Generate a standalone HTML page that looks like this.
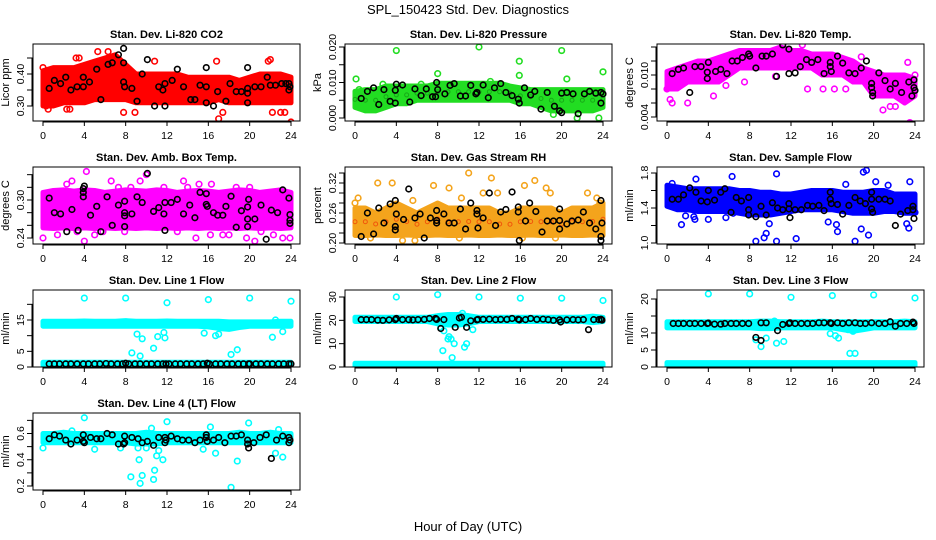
<!DOCTYPE html>
<html><head><meta charset="utf-8"><style>
html,body{margin:0;padding:0;background:#fff}
svg{display:block;font-family:"Liberation Sans",Arial,sans-serif}
</style></head><body>
<svg id="chart" width="936" height="540" viewBox="0 0 936 540" xmlns="http://www.w3.org/2000/svg">
<text x="468" y="14" font-size="13" text-anchor="middle">SPL_150423  Std. Dev. Diagnostics</text>
<text x="468" y="531" font-size="13" text-anchor="middle">Hour of Day (UTC)</text>
</svg>
<script>
// ---------- data ----------
const xTicks = [0,4,8,12,16,20,24];
const hours = [0,1,2,3,4,5,6,7,8,9,10,11,12,13,14,15,16,17,18,19,20,21,22,23,24];
const fullDay = [0,24];

// CO2
const co2Lo = [0.30,0.30,0.31,0.31,0.31,0.32,0.32,0.32,0.32,0.31,0.31,0.31,0.31,0.31,0.31,0.31,0.31,0.32,0.31,0.31,0.31,0.31,0.31,0.31,0.31];
const co2Hi = [0.41,0.42,0.42,0.42,0.43,0.44,0.45,0.46,0.43,0.40,0.40,0.40,0.40,0.40,0.39,0.39,0.39,0.39,0.39,0.38,0.39,0.40,0.40,0.40,0.39];
const co2Out = [[0,0.42],[0.3,0.30],[0.5,0.29],[2.3,0.29],[2.6,0.29],[3.2,0.45],[3.5,0.45],[5.3,0.47],[6.3,0.47],[7.8,0.28],[8.9,0.28],[10.8,0.44],[17,0.26],[17.4,0.28],[22.2,0.28],[23,0.28],[23.4,0.28],[24,0.25],[16.8,0.44],[21.8,0.44],[22,0.445]];
const co2Black = [[0.6,0.355],[1.1,0.38],[1.7,0.37],[2.2,0.39],[2.7,0.35],[3.3,0.36],[3.9,0.39],[3.9,0.36],[4.5,0.375],[5.2,0.415],[5.6,0.32],[6.3,0.43],[6.7,0.435],[7.3,0.46],[7.8,0.48],[7.8,0.435],[7.8,0.375],[7.9,0.36],[8.6,0.355],[9.1,0.315],[9.6,0.40],[10.1,0.445],[10.8,0.30],[11.2,0.36],[11.6,0.35],[11.8,0.30],[11.8,0.37],[12.5,0.38],[13,0.415],[13.6,0.36],[14.3,0.32],[14.7,0.32],[15.2,0.365],[15.8,0.42],[15.8,0.36],[15.8,0.31],[16.5,0.30],[16.9,0.345],[17.7,0.315],[18.1,0.37],[18.7,0.345],[19.2,0.345],[19.8,0.42],[19.8,0.355],[19.8,0.34],[19.8,0.31],[20.5,0.36],[21.1,0.36],[21.7,0.39],[22,0.365],[22.5,0.365],[23.1,0.37],[23.5,0.37],[23.8,0.37],[23.8,0.35],[23.9,0.36]];

// Pressure
const prLo = [0.003,0.002,0.002,0.003,0.004,0.004,0.005,0.005,0.005,0.005,0.005,0.005,0.005,0.005,0.005,0.005,0.004,0.004,0.003,0.002,0.002,0.002,0.002,0.002,0.003];
const prHi = [0.0075,0.008,0.008,0.009,0.009,0.009,0.009,0.009,0.0098,0.0098,0.0098,0.0098,0.0098,0.0098,0.0098,0.009,0.0085,0.008,0.008,0.008,0.008,0.008,0.008,0.008,0.008];
const prOut = [[0.1,0.011],[0.4,0.008],[4,0.019],[8,0.0125],[12,0.020],[15.9,0.016],[15.9,0.012],[20,0.019],[20.5,0.011],[24,0.013],[21.5,0.0],[23.6,0.0],[19.2,0.001],[2.7,0.0095],[6.4,0.0095],[13.1,0.0103]];
const prBlack = [[0.6,0.0055],[1.2,0.0075],[1.8,0.0085],[2.3,0.0038],[2.8,0.008],[3.4,0.0047],[3.9,0.0042],[3.9,0.0078],[4,0.0095],[4.6,0.0093],[5.3,0.0045],[5.8,0.0082],[6.4,0.0063],[6.9,0.0082],[7.5,0.006],[7.8,0.006],[7.9,0.010],[8,0.008],[8.7,0.0068],[9.2,0.0092],[9.6,0.0097],[10.2,0.0062],[10.7,0.0062],[11.2,0.0092],[11.7,0.0068],[11.8,0.0072],[12.4,0.0093],[12.9,0.0057],[13.5,0.0085],[14.1,0.0097],[14.6,0.0072],[15.2,0.0063],[15.8,0.0053],[15.9,0.0042],[16.4,0.0085],[17,0.0065],[17.4,0.0075],[18,0.0025],[18.6,0.0072],[19.3,0.0033],[19.8,0.002],[20,0.0015],[20,0.007],[20.5,0.0072],[21.1,0.0068],[21.6,0.0012],[22.2,0.0068],[22.7,0.0075],[23.3,0.007],[23.8,0.0072],[23.8,0.0042],[24,0.0068]];

// Li-820 Temp
const tLo = [0.008,0.008,0.009,0.009,0.009,0.009,0.010,0.011,0.011,0.011,0.011,0.011,0.011,0.011,0.011,0.010,0.010,0.010,0.009,0.009,0.007,0.007,0.007,0.006,0.007];
const tHi = [0.0105,0.011,0.0115,0.012,0.012,0.0125,0.013,0.0135,0.0135,0.0135,0.0135,0.014,0.0135,0.0135,0.013,0.013,0.013,0.0125,0.012,0.011,0.0105,0.010,0.010,0.010,0.0095];
const tOut = [[0,0.008],[0.3,0.0065],[0.5,0.006],[2,0.006],[4.5,0.007],[5.7,0.0085],[7.5,0.009],[10.5,0.0098],[11.2,0.0143],[13.1,0.0143],[13.6,0.008],[15.1,0.008],[16.2,0.008],[17.3,0.008],[18.8,0.0126],[20.9,0.005],[21.6,0.0055],[22.1,0.0055],[23.3,0.0118],[23.5,0.0032],[24,0.010]];
const tBlack = [[0.5,0.0102],[1.1,0.0108],[1.6,0.011],[2.2,0.0075],[2.7,0.0112],[3.3,0.0112],[3.9,0.0104],[3.9,0.0095],[4.0,0.0118],[4.7,0.0105],[5.2,0.0108],[5.8,0.0102],[6.3,0.0120],[6.8,0.012],[7.3,0.0125],[7.9,0.013],[8.0,0.0127],[8.6,0.011],[9.2,0.0127],[9.6,0.0127],[10.2,0.013],[10.6,0.0098],[11.2,0.0143],[11.8,0.0137],[11.8,0.0102],[12.4,0.0103],[12.9,0.0112],[13.5,0.0122],[14,0.0118],[14.6,0.0122],[15.2,0.0102],[15.8,0.0118],[15.8,0.0112],[15.9,0.0105],[16.5,0.0127],[17,0.0117],[17.6,0.0103],[18.2,0.0102],[18.8,0.011],[19.3,0.012],[19.8,0.0088],[19.8,0.0082],[19.9,0.0075],[19.9,0.007],[20.5,0.0103],[21.1,0.0092],[21.6,0.008],[22.1,0.0088],[22.7,0.0075],[23.4,0.009],[23.7,0.007],[23.9,0.0082],[23.9,0.0093],[24,0.0078]];

// Amb box temp
const abLo = [0.256,0.255,0.256,0.255,0.256,0.255,0.256,0.255,0.256,0.255,0.256,0.255,0.256,0.255,0.256,0.255,0.256,0.255,0.256,0.255,0.256,0.255,0.256,0.255,0.256];
const abHi = [0.312,0.315,0.316,0.314,0.316,0.315,0.312,0.314,0.316,0.315,0.314,0.316,0.315,0.312,0.314,0.315,0.314,0.312,0.314,0.316,0.315,0.312,0.314,0.316,0.312];
const abOut = [[0,0.24],[1.4,0.245],[2.3,0.325],[2.8,0.33],[3.3,0.25],[4,0.235],[4.2,0.345],[5,0.245],[5.8,0.25],[6.6,0.33],[7.3,0.32],[7.9,0.25],[8.5,0.32],[9.4,0.33],[10,0.34],[11.2,0.31],[11.7,0.32],[13,0.25],[13.6,0.33],[14,0.32],[14.8,0.24],[15.1,0.325],[16.2,0.245],[16.3,0.325],[17.4,0.245],[18,0.245],[19.7,0.24],[20,0.32],[20.5,0.235],[21.1,0.25],[22.3,0.245],[23.2,0.24],[23.9,0.24],[22.5,0.31],[18.7,0.32]];
const abBlack = [[0.6,0.303],[1.1,0.28],[1.7,0.278],[2.3,0.25],[2.8,0.285],[3.4,0.252],[3.9,0.318],[3.9,0.312],[3.9,0.305],[4.0,0.322],[4.6,0.276],[5.2,0.29],[5.6,0.25],[6.2,0.305],[6.7,0.26],[7.3,0.292],[7.9,0.298],[7.9,0.28],[7.9,0.275],[7.9,0.258],[8.6,0.278],[9.1,0.305],[9.6,0.296],[10.1,0.342],[10.7,0.282],[11.2,0.288],[11.7,0.278],[11.8,0.296],[11.8,0.252],[12.4,0.296],[13,0.301],[13.6,0.278],[14.2,0.292],[14.7,0.272],[15.2,0.312],[15.8,0.31],[15.8,0.293],[15.9,0.29],[16.5,0.28],[16.9,0.276],[17.4,0.276],[17.7,0.29],[18.2,0.306],[18.7,0.257],[19.2,0.283],[19.8,0.289],[19.8,0.27],[19.8,0.258],[19.9,0.301],[20.5,0.27],[21.1,0.292],[21.6,0.238],[22.1,0.284],[22.7,0.28],[23.2,0.316],[23.8,0.303],[23.9,0.277],[23.9,0.263],[23.9,0.268]];

// Gas stream RH
const rhLo = [0.215,0.215,0.216,0.215,0.215,0.216,0.215,0.215,0.216,0.215,0.215,0.216,0.215,0.215,0.216,0.215,0.215,0.216,0.215,0.215,0.216,0.215,0.215,0.216,0.215];
const rhHi = [0.27,0.27,0.26,0.27,0.28,0.27,0.26,0.27,0.28,0.27,0.27,0.27,0.27,0.27,0.26,0.26,0.27,0.27,0.27,0.27,0.26,0.27,0.27,0.27,0.28];
const rhOut = [[0,0.28],[0.3,0.29],[2.2,0.32],[3.6,0.32],[4.6,0.205],[5.6,0.285],[5.8,0.205],[7.6,0.315],[9.1,0.31],[10.3,0.29],[10.1,0.21],[11,0.34],[12.4,0.30],[13.2,0.33],[13.8,0.30],[16.4,0.315],[17.4,0.325],[18.5,0.31],[18.9,0.30],[22.5,0.30],[23.4,0.29],[1.5,0.21],[16.2,0.21],[19.4,0.21],[23.7,0.28]];
const rhBlack = [[0.6,0.213],[1.2,0.26],[1.8,0.218],[2.3,0.27],[2.8,0.24],[3.4,0.278],[3.9,0.285],[3.9,0.233],[3.9,0.226],[4,0.258],[4.7,0.247],[5.2,0.308],[5.8,0.25],[6.3,0.258],[6.7,0.21],[7.3,0.25],[7.9,0.265],[7.9,0.245],[7.9,0.24],[8.6,0.258],[9.1,0.24],[9.6,0.24],[10.2,0.268],[10.7,0.228],[11.2,0.28],[11.8,0.265],[11.8,0.258],[11.9,0.23],[12.4,0.25],[13,0.30],[13.6,0.235],[14.1,0.262],[14.6,0.267],[15.2,0.302],[15.8,0.272],[15.8,0.262],[15.9,0.205],[16.5,0.244],[16.9,0.28],[17.5,0.263],[18.1,0.222],[18.6,0.244],[19.2,0.244],[19.8,0.268],[19.8,0.245],[19.8,0.228],[20.5,0.238],[21,0.244],[21.6,0.246],[22.1,0.262],[22.7,0.24],[23.3,0.228],[23.8,0.285],[23.9,0.24],[23.8,0.205],[23.8,0.213]];

// Sample flow
const sfLo = [1.42,1.38,1.38,1.36,1.36,1.36,1.36,1.34,1.32,1.32,1.32,1.34,1.36,1.38,1.38,1.38,1.38,1.36,1.34,1.34,1.34,1.36,1.36,1.34,1.34];
const sfHi = [1.66,1.64,1.62,1.62,1.62,1.62,1.62,1.60,1.60,1.58,1.58,1.56,1.56,1.58,1.60,1.60,1.60,1.58,1.58,1.58,1.60,1.60,1.56,1.56,1.56];
const sfOut = [[0.5,1.68],[1.4,1.21],[1.8,1.31],[2.6,1.3],[2.7,1.27],[2.8,1.73],[4,1.27],[5.7,1.29],[6.3,1.76],[6.4,1.34],[8.6,1.02],[9.4,1.06],[9.6,1.11],[9.9,1.22],[10.6,1.79],[10.6,1.02],[12.5,1.05],[15.6,1.24],[16.4,1.21],[16.5,1.13],[17.3,1.67],[18.2,1.02],[18.8,1.16],[19,1.81],[19.3,1.83],[19.5,1.09],[20.2,1.7],[23.5,1.70],[23.4,1.17],[23.2,1.22],[24,1.35],[21.4,1.66]];
const sfBlack = [[0.5,1.5],[1.1,1.5],[1.6,1.55],[2.2,1.63],[2.8,1.58],[3.3,1.48],[3.9,1.47],[4,1.6],[4.6,1.49],[5.2,1.58],[5.6,1.62],[6.2,1.35],[6.7,1.52],[7.2,1.48],[7.9,1.52],[7.9,1.38],[7.9,1.32],[8.6,1.3],[9.1,1.42],[9.6,1.32],[10.2,1.46],[10.7,1.4],[11.2,1.38],[11.8,1.45],[11.8,1.39],[11.9,1.29],[12.4,1.38],[13,1.38],[13.6,1.43],[14.1,1.42],[14.7,1.43],[15.2,1.37],[15.8,1.58],[15.8,1.5],[15.9,1.45],[16.5,1.44],[17,1.33],[17.6,1.43],[18.2,1.52],[18.7,1.48],[19.2,1.45],[19.8,1.58],[19.8,1.5],[19.8,1.39],[19.9,1.35],[20.5,1.5],[21.1,1.5],[21.6,1.48],[22.1,1.2],[22.6,1.33],[23.3,1.37],[23.8,1.42],[23.8,1.38],[23.9,1.28]];

// Line 1 flow
const l1Lo = [13,13,13,13,13,13,13,13,13,13,13,13,13,13,13,13,12.8,12.3,12,12.6,13,13,13,13,13];
const l1Hi = [14.6,14.6,14.6,14.6,14.7,14.6,14.6,14.6,14.8,14.6,14.6,14.6,14.7,14.6,14.6,14.6,14.6,14.6,14.4,14.4,14.4,14.4,14.4,14.6,14.6];
const l1BaseLo = [0.6,0.6];
const l1BaseHi = [1.5,1.5];
const l1Out = [[4,22],[8,22],[12,20.5],[16,21.5],[20,22],[24,21],[8.6,4.5],[9.1,10.5],[9.4,3.5],[9.6,9],[10.7,6],[11.1,9.7],[11.7,11],[11.8,9.3],[15.6,10.8],[16.7,10],[17,10.5],[18.2,4],[18.8,5.5],[22.2,9.5],[22.5,15],[23.2,11.3]];
const l1Black = [[0.6,1],[1.1,1],[1.6,1],[2.2,1],[2.7,1],[3.3,1],[3.9,1],[4.4,1],[5.0,1],[5.5,1],[6.1,1.1],[6.6,1],[7.2,1],[7.7,1],[8.0,1.2],[8.3,1],[8.9,1],[9.4,1],[10.0,1],[10.5,1],[11.1,1],[11.6,1],[11.9,1],[12.2,1],[12.8,1],[13.3,1],[13.9,1],[14.4,1],[15.0,1],[15.5,1],[15.9,1.2],[16.1,1],[16.7,1],[17.2,1],[17.8,1],[18.3,1],[18.9,1],[19.4,1],[19.9,1],[20.0,1],[20.6,1],[21.1,1],[21.7,1],[22.2,1],[22.8,1],[23.3,1],[23.8,1],[24.0,1]];

// Line 2 flow
const l2Lo = [19.5,19.5,19.5,19.5,19.5,19.5,19.5,19.5,18.5,18,18,18.5,19.5,19.5,19.5,19.5,19.5,19.5,19.5,19.5,19.5,19.5,19.5,19,19.5];
const l2Hi = [21.3,21.3,21.3,21.3,21.3,21.3,21.3,21.3,22,22.5,22.5,22,21.3,21.3,21.3,21.3,21.3,21.3,21.3,21.3,21.3,21.3,21.3,21.8,21.3];
const l2BaseLo = [0,0];
const l2BaseHi = [1.6,1.6];
const l2Out = [[4,30],[8,31],[12,30],[16,29.5],[20,29.5],[24,28.5],[8.5,7],[8.6,15.5],[9.0,12],[9.1,13],[9.3,12],[9.4,4],[9.6,10],[10.4,23],[10.6,8.5],[10.8,10],[11.4,16],[8.3,17]];
const l2Black = [[0.6,20.3],[1.1,20.3],[1.6,20.3],[2.2,20.1],[2.7,20],[3.3,20.2],[3.9,20.3],[4,20.8],[4.6,20.3],[5.2,20.3],[5.6,20.2],[6.1,20.3],[6.7,20.4],[7.2,20.8],[7.8,20.8],[7.9,20.4],[8.3,16.5],[8.6,20.3],[9.7,17],[10.1,21],[10.3,21.3],[10.8,17],[11.2,19.8],[11.8,20.2],[11.9,20.4],[12.4,20.4],[13,20.5],[13.6,20.3],[14.1,20.4],[14.7,20.4],[15.2,20.8],[15.8,20.5],[15.9,20.2],[16.5,20.3],[17,20.8],[17.6,20.4],[18.2,20.5],[18.7,20.3],[19.2,20],[19.8,20.2],[19.9,19.3],[20.5,20.2],[21.1,20.3],[21.6,20.2],[22.1,20.3],[22.6,16],[23.1,20.3],[23.6,20.3],[23.8,20.5],[23.9,20.1]];

// Line 3 flow
const l3Lo = [11.5,11.5,11.5,11.5,11.5,11.5,11.5,11.5,11.5,11.3,11.3,11.5,11.5,11.5,11.5,11.5,11.5,11,10.5,11,11.5,11.5,11.5,11.5,11.5];
const l3Hi = [13.3,13.3,13.3,13.3,13.3,13.3,13.3,13.3,13.3,13.5,13.5,13.3,13.3,13.3,13.3,13.5,13.3,13.3,13.3,13.3,13.3,13.3,13.3,13.5,13.3];
const l3BaseLo = [0,0];
const l3BaseHi = [1.3,1.3];
const l3Out = [[4,21.5],[8,21.5],[12,20.5],[16,21],[20,21.2],[24,20.3],[8.6,8],[9.1,6],[9.6,8.5],[10.4,13.5],[10.6,7],[11.3,7.5],[15.8,9.8],[16.3,9.2],[16.6,8.5],[17.7,4],[18.2,4],[17.5,11],[18,10.5]];
const l3Black = [[0.6,12.8],[1.1,12.8],[1.6,12.8],[2.2,12.8],[2.7,12.8],[3.3,12.8],[3.9,12.8],[4,12.9],[4.6,12.6],[5.2,12.6],[5.6,12.8],[6.2,12.8],[6.7,12.8],[7.3,12.8],[7.9,12.8],[8.6,8.7],[9.1,13],[9.1,7.8],[9.6,13],[10.7,10.7],[11.2,12.5],[11.8,12.8],[11.9,13],[12.4,12.8],[13,12.8],[13.6,12.8],[14.1,12.8],[14.7,13],[15.2,13],[15.8,13],[15.9,12.8],[16.5,13],[17,12.8],[17.6,13],[18.2,13],[18.7,12.8],[19.2,12.8],[19.8,13],[20.5,12.8],[21.1,12.8],[21.6,13.3],[22.1,12],[22.6,12.8],[23.2,12.8],[23.8,13.2],[23.9,12.8]];

// Line 4 flow
const l4Lo = [0.53,0.53,0.53,0.53,0.53,0.53,0.53,0.53,0.53,0.52,0.52,0.52,0.53,0.53,0.53,0.53,0.53,0.53,0.53,0.53,0.53,0.53,0.53,0.53,0.53];
const l4Hi = [0.60,0.60,0.61,0.60,0.60,0.60,0.60,0.60,0.60,0.60,0.61,0.60,0.60,0.60,0.60,0.60,0.60,0.60,0.60,0.61,0.60,0.60,0.61,0.60,0.60];
const l4Out = [[0,0.49],[1.3,0.55],[2.8,0.62],[4,0.72],[5,0.48],[7.5,0.49],[8.5,0.27],[9.2,0.49],[9.3,0.4],[9.4,0.22],[9.6,0.28],[10,0.49],[10.5,0.64],[10.7,0.25],[10.8,0.32],[11,0.43],[11.2,0.47],[11.6,0.4],[12,0.69],[15.5,0.48],[16.2,0.65],[16.7,0.45],[18.2,0.19],[18.8,0.39],[19.9,0.68],[22.5,0.45],[22.8,0.63],[23.2,0.42]];
const l4Black = [[0.6,0.56],[1.1,0.59],[1.6,0.58],[2.2,0.55],[2.7,0.52],[3.3,0.55],[3.9,0.59],[3.9,0.54],[4,0.53],[4.6,0.57],[5.2,0.56],[5.6,0.56],[6.2,0.6],[6.7,0.59],[7.3,0.52],[7.8,0.52],[7.9,0.53],[7.9,0.58],[8.6,0.57],[9.2,0.56],[9.6,0.53],[10.1,0.54],[10.7,0.51],[11.2,0.57],[11.8,0.57],[11.8,0.53],[11.9,0.55],[12.4,0.58],[13,0.56],[13.5,0.55],[14.1,0.55],[14.7,0.53],[15.2,0.55],[15.8,0.59],[15.8,0.57],[15.9,0.54],[16.5,0.55],[17,0.57],[17.6,0.53],[18.2,0.58],[18.7,0.58],[19.2,0.59],[19.8,0.55],[19.8,0.52],[19.9,0.49],[20.4,0.53],[21,0.57],[21.6,0.59],[22.1,0.41],[22.6,0.55],[23.2,0.58],[23.8,0.57],[23.8,0.53],[23.9,0.55]];

// y tick arrays
const co2Ticks=[0.30,0.35,0.40,0.45], co2Labels=["0.30","","0.40",""];
const prTicks=[0,0.005,0.010,0.015,0.020], prLabels=["0.000","","0.010","","0.020"];
const tTicks=[0.004,0.006,0.008,0.010,0.012,0.014], tLabels=["0.004","","","0.010","",""];
const abTicks=[0.24,0.26,0.28,0.30,0.32,0.34], abLabels=["0.24","","","0.30","",""];
const rhTicks=[0.20,0.22,0.24,0.26,0.28,0.30,0.32,0.34], rhLabels=["0.20","","","0.26","","","0.32",""];
const sfTicks=[1.0,1.2,1.4,1.6,1.8], sfLabels=["1.0","","1.4","","1.8"];
const l1Ticks=[0,5,10,15,20], l1Labels=["0","5","","15",""];
const l2Ticks=[0,10,20,30], l2Labels=["0","10","20","30"];
const l3Ticks=[0,5,10,15,20], l3Labels=["0","5","10","","20"];
const l4Ticks=[0.2,0.3,0.4,0.5,0.6,0.7], l4Labels=["0.2","","0.4","","0.6",""];

// ---------- layout (not data) ----------
const panels = [
 {name:"co2",title:"Stan. Dev. Li-820 CO2",ylab:"Licor ppm",col:0,row:0,y0:0.30,y1:0.40,py0:106,py1:74,color:"#ff0000",bands:[[hours,co2Lo,co2Hi]],out:co2Out,blk:co2Black,ticks:co2Ticks,labels:co2Labels},
 {name:"pressure",title:"Stan. Dev. Li-820 Pressure",ylab:"kPa",col:1,row:0,y0:0,y1:0.020,py0:118,py1:47,color:"#22dd22",bands:[[hours,prLo,prHi]],out:prOut,blk:prBlack,ticks:prTicks,labels:prLabels},
 {name:"li820-temp",title:"Stan. Dev. Li-820 Temp.",ylab:"degrees C",col:2,row:0,y0:0.004,y1:0.010,py0:117,py1:75,color:"#ff00ff",bands:[[hours,tLo,tHi]],out:tOut,blk:tBlack,ticks:tTicks,labels:tLabels},
 {name:"amb-box-temp",title:"Stan. Dev. Amb. Box Temp.",ylab:"degrees C",col:0,row:1,y0:0.24,y1:0.30,py0:238,py1:200,color:"#ff00ff",bands:[[hours,abLo,abHi]],out:abOut,blk:abBlack,ticks:abTicks,labels:abLabels},
 {name:"gas-stream-rh",title:"Stan. Dev. Gas Stream RH",ylab:"percent",col:1,row:1,y0:0.20,y1:0.32,py0:243,py1:183,color:"#f4a41c",bands:[[hours,rhLo,rhHi]],out:rhOut,blk:rhBlack,ticks:rhTicks,labels:rhLabels},
 {name:"sample-flow",title:"Stan. Dev. Sample Flow",ylab:"ml/min",col:2,row:1,y0:1.0,y1:1.8,py0:243,py1:173,color:"#0000ff",bands:[[hours,sfLo,sfHi]],out:sfOut,blk:sfBlack,ticks:sfTicks,labels:sfLabels},
 {name:"line1-flow",title:"Stan. Dev. Line 1 Flow",ylab:"ml/min",col:0,row:2,y0:0,y1:15,py0:367,py1:320,color:"#00ffff",bands:[[hours,l1Lo,l1Hi],[fullDay,l1BaseLo,l1BaseHi]],out:l1Out,blk:l1Black,ticks:l1Ticks,labels:l1Labels},
 {name:"line2-flow",title:"Stan. Dev. Line 2 Flow",ylab:"ml/min",col:1,row:2,y0:0,y1:30,py0:367,py1:297,color:"#00ffff",bands:[[hours,l2Lo,l2Hi],[fullDay,l2BaseLo,l2BaseHi]],out:l2Out,blk:l2Black,ticks:l2Ticks,labels:l2Labels},
 {name:"line3-flow",title:"Stan. Dev. Line 3 Flow",ylab:"ml/min",col:2,row:2,y0:0,y1:20,py0:367,py1:299,color:"#00ffff",bands:[[hours,l3Lo,l3Hi],[fullDay,l3BaseLo,l3BaseHi]],out:l3Out,blk:l3Black,ticks:l3Ticks,labels:l3Labels},
 {name:"line4-flow",title:"Stan. Dev. Line 4 (LT) Flow",ylab:"ml/min",col:0,row:3,y0:0.2,y1:0.6,py0:486,py1:433.5,color:"#00ffff",bands:[[hours,l4Lo,l4Hi]],out:l4Out,blk:l4Black,ticks:l4Ticks,labels:l4Labels}
];

const NS="http://www.w3.org/2000/svg";
const svg=document.getElementById("chart");
function mk(tag,attrs,parent){const e=document.createElementNS(NS,tag);for(const k in attrs)e.setAttribute(k,attrs[k]);(parent||svg).appendChild(e);return e;}

panels.forEach(p=>{
  const bx=33+312*p.col, bw=267, by=44+123*p.row, bh=77;
  const X=h=>43+312*p.col+h*(248/24);
  const Y=v=>p.py0+(v-p.y0)*(p.py1-p.py0)/(p.y1-p.y0);
  const g=mk("g",{});
  
  
  const cp=mk("clipPath",{id:"cp-"+p.name},g);
  mk("rect",{x:bx,y:by,width:bw,height:bh},cp);
  const plot=mk("g",{"clip-path":"url(#cp-"+p.name+")"},g);
  p.bands.forEach((b,bi)=>{
    const [tt,lo,hi]=b;
    let pts=tt.map((t,i)=>X(t)+","+Y(hi[i]));
    for(let i=tt.length-1;i>=0;i--)pts.push(X(tt[i])+","+Y(lo[i]));
    const poly=mk("polygon",{points:pts.join(" "),fill:p.color,stroke:p.color,"stroke-width":5,"stroke-linejoin":"round"},plot);
    
    
    if(p.name==="gas-stream-rh"||p.name==="pressure"){
      tt.forEach((t,i)=>{
        const c1=mk("circle",{cx:X(t),cy:Y((lo[i]+hi[i])/2),r:2,fill:"none",stroke:p.name==="pressure"?"#118811":"#ee2200","stroke-width":1,opacity:0.6},plot);
        
        
      });
    }
  });
  p.out.forEach(d=>{
    const c=mk("circle",{cx:X(d[0]),cy:Y(d[1]),r:2.8,fill:"none",stroke:p.color,"stroke-width":1.6},plot);
    
    
  });
  p.blk.forEach(d=>{
    const c=mk("circle",{cx:X(d[0]),cy:Y(d[1]),r:2.8,fill:"none",stroke:"#000","stroke-width":1.6},plot);
    
    
  });
  const box=mk("rect",{x:bx,y:by,width:bw,height:bh,fill:"none",stroke:"#000","stroke-width":1},g);
  
  
  const tl=mk("text",{x:bx+bw/2,y:by-6,"font-size":11,"font-weight":"bold","text-anchor":"middle"},g);
  tl.textContent=p.title;
  
  
  mk("line",{x1:X(0),x2:X(24),y1:by+bh+1,y2:by+bh+1,stroke:"#000"},g);
  xTicks.forEach(t=>{
    mk("line",{x1:X(t),x2:X(t),y1:by+bh,y2:by+bh+5,stroke:"#000"},g);
    const lt=mk("text",{x:X(t),y:by+bh+18,"font-size":10.5,"text-anchor":"middle"},g);
    lt.textContent=t;
    
    
  });
  mk("line",{x1:bx-1,x2:bx-1,y1:Y(p.ticks[0]),y2:Y(p.ticks[p.ticks.length-1]),stroke:"#000"},g);
  p.ticks.forEach((t,i)=>{
    mk("line",{x1:bx-6,x2:bx,y1:Y(t),y2:Y(t),stroke:"#000"},g);
    if(p.labels[i]){
      const yl=mk("text",{x:0,y:0,"font-size":10.5,"text-anchor":"middle",transform:"translate("+(bx-9)+","+Y(t)+") rotate(-90)"},g);
      yl.textContent=p.labels[i];
      
      
    }
  });
  const yt=mk("text",{x:0,y:0,"font-size":11,"text-anchor":"middle",transform:"translate("+(bx-24)+","+(by+bh/2)+") rotate(-90)"},g);
  yt.textContent=p.ylab;
  
  
});
</script>
</body></html>
